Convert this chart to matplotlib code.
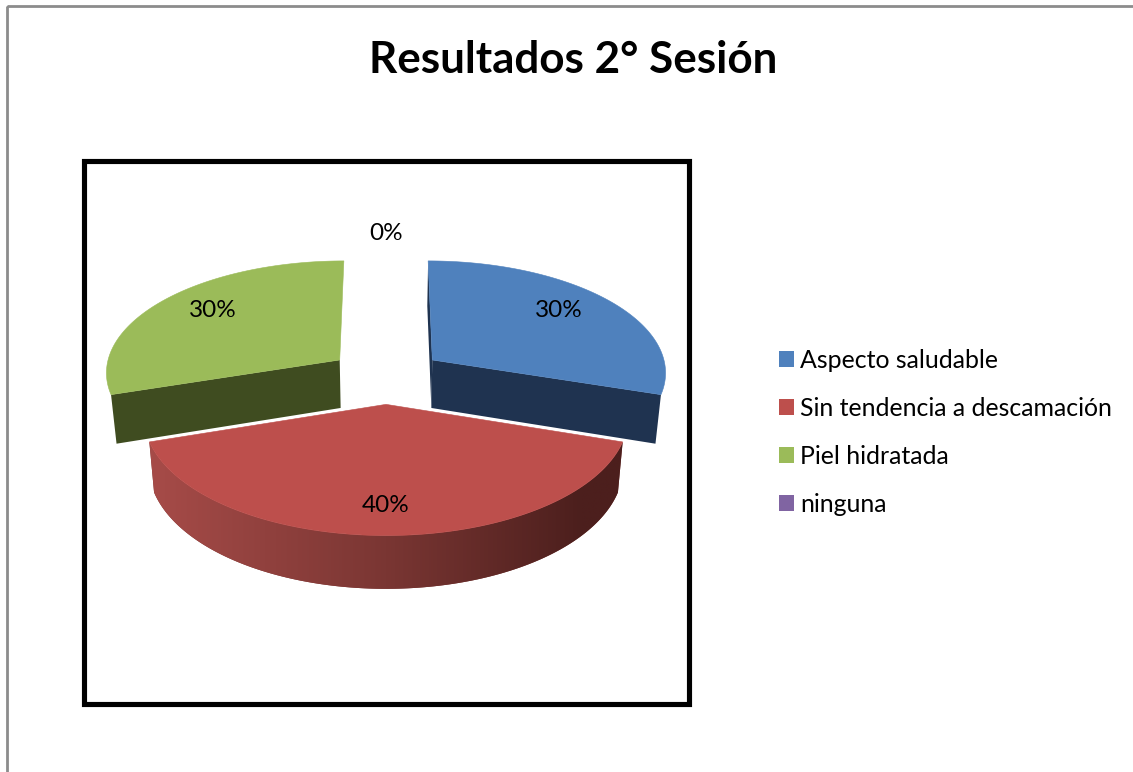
import numpy as np
import matplotlib
matplotlib.use("Agg")
import matplotlib.pyplot as plt
from matplotlib.patches import Polygon, Rectangle, Patch
from matplotlib.colors import to_rgb

title = "Resultados 2° Sesión"
categories = ["Aspecto saludable", "Sin tendencia a descamación", "Piel hidratada", "ninguna"]
values = [30, 40, 30, 0]
top_colors = ["#4f81bd", "#bd4f4c", "#9bbb59", "#8064a2"]
side_colors = ["#1f3350", "#7a3633", "#3f4c20", "#4a3a60"]

# layout of the projected pie (pixels of the figure)
W, H = 1133, 772
CX, CY = 386, 376
RX, RY = 235, 112
PERSP = 0.10
EXPLODE = 0.247
BOTTOM_SHRINK = 0.98
label_reach = [(0.72, 0.81), (0.78, 0.79), (0.72, 0.81), (0.0, 1.215)]

plt.rcParams["font.family"] = ["Lato", "DejaVu Sans"]
fig = plt.figure(figsize=(W / 100, H / 100), dpi=100, facecolor="white")
ax = fig.add_axes([0, 0, 1, 1])
ax.axis("off")


def project(px, py):
    d = 1 + PERSP * py
    return CX + RX * px / d, CY - RY * py / d


def lower(x, y):
    return CX + BOTTOM_SHRINK * (x - CX), y + 48 + 0.03 * (y - 360)


def red_gradient(x):
    lo, mid, hi = [np.array(to_rgb(c)) for c in ("#a64b48", "#7a3633", "#4c1f1d")]
    t = np.clip((x - 154) / (619 - 154), 0, 1)
    out = np.empty((t.size, 3))
    for c in range(3):
        out[:, c] = np.interp(t, [0, 0.5, 0.92, 1], [lo[c], mid[c], hi[c], hi[c]])
    return out


ax.add_patch(Rectangle((7, 6), W + 20, H + 20, fill=False, ec="#8c8c8c", lw=2))
ax.add_patch(Rectangle((83.7, 160.5), 605, 543, fill=False, ec="black", lw=3.7, joinstyle="miter"))

total = sum(values)
start = np.cumsum([0] + values[:-1]) / total * 360
slices = []
for i, v in enumerate(values):
    a0 = np.radians(90 - start[i])
    a1 = np.radians(90 - start[i] - v / total * 360)
    mid = (a0 + a1) / 2
    slices.append((i, a0, a1, mid, EXPLODE * np.cos(mid), EXPLODE * np.sin(mid)))

for i, a0, a1, mid, ox, oy in sorted(slices, key=lambda s: -s[5]):
    if values[i] == 0:
        continue
    t = np.linspace(a0, a1, 200)
    ex, ey = project(ox + np.cos(t), oy + np.sin(t))
    apx, apy = project(ox, oy)
    bx, by = lower(ex, ey)
    abx, aby = lower(apx, apy)

    if oy > 0:
        # rear slices: only the radial cut faces show
        for k in (0, -1):
            if ox < 0 and k == -1:
                continue
            ax.add_patch(Polygon([(apx, apy), (ex[k], ey[k]), (bx[k], by[k]), (abx, aby)],
                                 closed=True, fc=side_colors[i], ec="none", zorder=2 + i))
    else:
        # front slice: the outer wall with its horizontal shading
        wall = Polygon(np.column_stack([np.r_[ex, bx[::-1]], np.r_[ey, by[::-1]]]), closed=True,
                       fc=side_colors[i], ec="none", zorder=2 + i)
        ax.add_patch(wall)
        xs = np.linspace(ex.min(), ex.max(), 400)
        im = ax.imshow(red_gradient(xs)[None, :, :], extent=(xs[0], xs[-1], by.max() + 2, ey.min() - 2),
                       aspect="auto", zorder=2.2 + i, interpolation="bilinear")
        im.set_clip_path(wall)
    # top face
    pts = [(apx, apy)] + list(zip(ex, ey))
    ax.add_patch(Polygon(pts, closed=True, fc=top_colors[i], ec=top_colors[i], lw=0.4, zorder=2.5 + i))

for (i, a0, a1, mid, ox, oy), (rx, ry) in zip(slices, label_reach):
    lx, ly = project(ox + rx * np.cos(mid), oy + ry * np.sin(mid))
    pct = round(values[i] / total * 100)
    ax.text(lx, ly, f"{pct}%", ha="center", va="center", fontsize=17.5, color="black", zorder=10)

ax.text(573, 60, title, ha="center", va="center", fontsize=31.7, fontweight="bold", color="black")

handles = [Patch(fc=c, ec="none") for c in top_colors]
ax.legend(handles, categories, loc="upper left", bbox_to_anchor=(779 / W, 1 - 349 / H),
          frameon=False, fontsize=17.9, handlelength=0.6, handleheight=0.6,
          handletextpad=0.24, labelspacing=1.0, borderpad=0, borderaxespad=0, labelcolor="black")

ax.set_xlim(0, W)
ax.set_ylim(H, 0)
fig.savefig("out.png", dpi=100)
